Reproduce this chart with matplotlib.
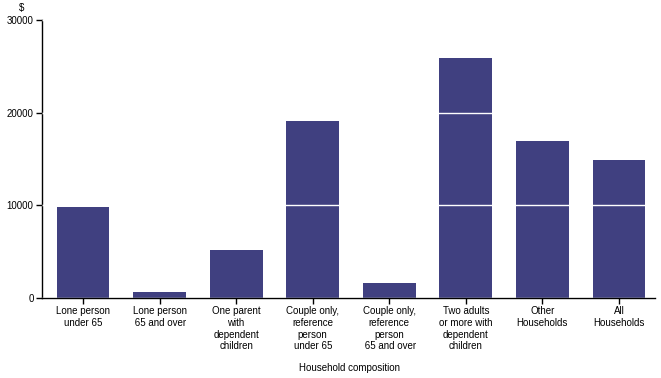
import matplotlib
matplotlib.use("Agg")
import matplotlib.pyplot as plt

categories = [
    "Lone person\nunder 65",
    "Lone person\n 65 and over",
    "One parent\nwith\ndependent\nchildren",
    "Couple only,\nreference\nperson\nunder 65",
    "Couple only,\nreference\nperson\n 65 and over",
    "Two adults\nor more with\ndependent\nchildren",
    "Other\nHouseholds",
    "All\nHouseholds",
]
values = [9800, 700, 5150, 19050, 1600, 25950, 16900, 14850]
yticks = [0, 10000, 20000, 30000]

plt.rcParams['font.family'] = ['Liberation Sans', 'DejaVu Sans']

fig = plt.figure(figsize=(6.61, 3.78), dpi=100)
ax = fig.add_axes([42/661, 1 - 298/378, (655-42)/661, (298-20)/378])

x = list(range(len(categories)))
ax.bar(x, values, width=0.69, color="#404080", zorder=1)

ax.set_xlim(-0.535, 7.47)
ax.set_ylim(0, 30000)
ax.set_yticks(yticks)
ax.set_yticklabels([str(t) for t in yticks], fontsize=7)
ax.set_xticks(x)
ax.set_xticklabels(categories, fontsize=7, linespacing=1.2, va='top')

ax.yaxis.grid(True, color='white', linewidth=1.0, zorder=3)
ax.set_axisbelow(False)

for s in ['top', 'right']:
    ax.spines[s].set_visible(False)
for s in ['left', 'bottom']:
    ax.spines[s].set_linewidth(1.0)
    ax.spines[s].set_color('black')

ax.tick_params(axis='y', length=4, width=1, pad=2)
ax.tick_params(axis='x', length=4, width=1, pad=2)

fig.text(22/661, 1 - 8/378, "$", fontsize=7, ha='center', va='center')
fig.text(350/661, 1 - 368/378, "Household composition", fontsize=7, ha='center', va='center')

fig.savefig("out.png", dpi=100)
